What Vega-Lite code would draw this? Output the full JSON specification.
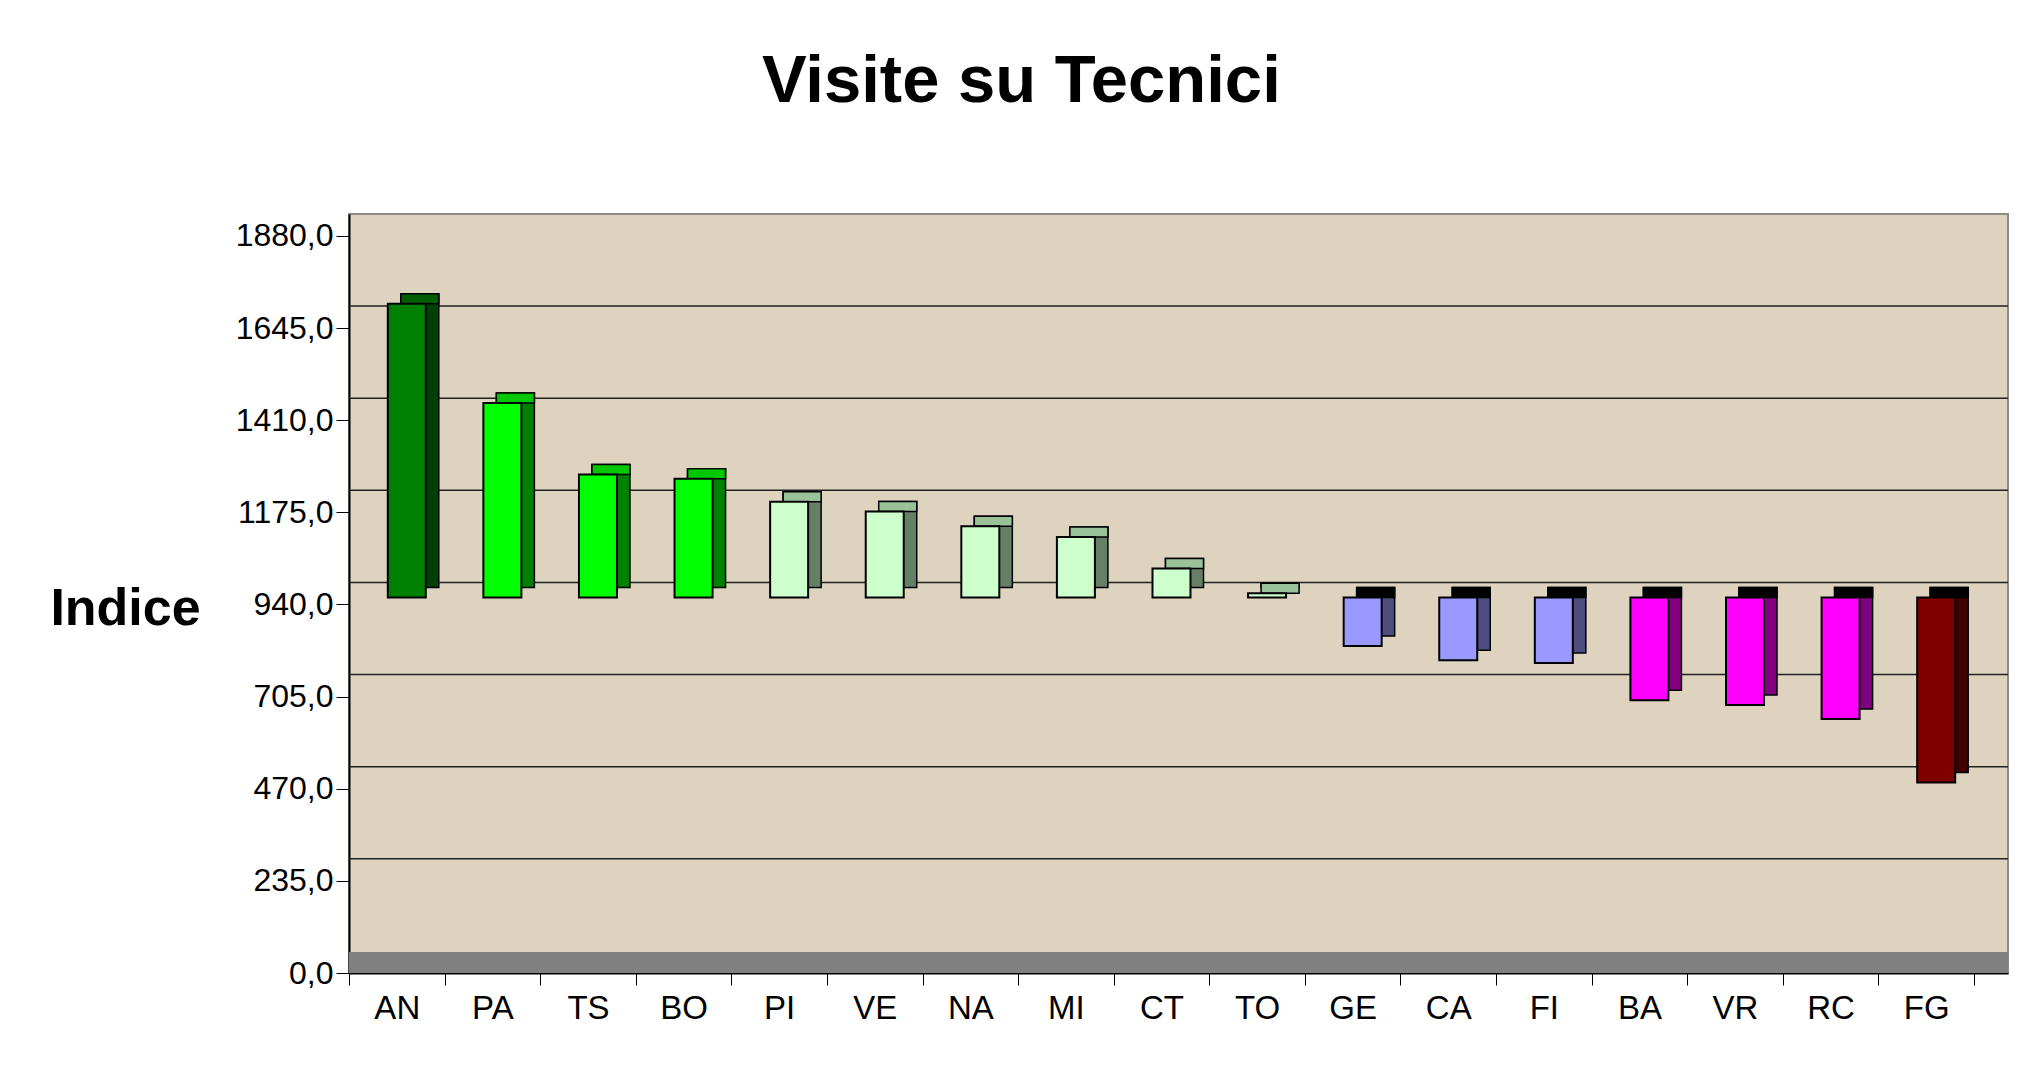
{
  "$schema": "https://vega.github.io/schema/vega-lite/v6.json",
  "width": 1659,
  "height": 759,
  "autosize": {"type": "none"},
  "padding": {"left": 349, "top": 214, "right": 11, "bottom": 115},
  "background": "white",
  "title": {
    "text": "Visite su Tecnici",
    "font": "Liberation Sans",
    "fontSize": 67,
    "fontWeight": "bold",
    "color": "black",
    "frame": "bounds",
    "anchor": "middle",
    "dx": -8,
    "offset": 98
  },
  "datasets": {
    "bars": [
      {"city": "AN", "value": 1689, "group": "g1"},
      {"city": "PA", "value": 1436, "group": "g2"},
      {"city": "TS", "value": 1254, "group": "g2"},
      {"city": "BO", "value": 1243, "group": "g2"},
      {"city": "PI", "value": 1184, "group": "g3"},
      {"city": "VE", "value": 1159, "group": "g3"},
      {"city": "NA", "value": 1122, "group": "g3"},
      {"city": "MI", "value": 1094, "group": "g3"},
      {"city": "CT", "value": 1014, "group": "g3"},
      {"city": "TO", "value": 951, "group": "g3"},
      {"city": "GE", "value": 816, "group": "g4"},
      {"city": "CA", "value": 780, "group": "g4"},
      {"city": "FI", "value": 773, "group": "g4"},
      {"city": "BA", "value": 678, "group": "g5"},
      {"city": "VR", "value": 666, "group": "g5"},
      {"city": "RC", "value": 630, "group": "g5"},
      {"city": "FG", "value": 468, "group": "g6"}
    ],
    "grid": [
      {"level": 235}, {"level": 470}, {"level": 705}, {"level": 940},
      {"level": 1175}, {"level": 1410}, {"level": 1645}
    ]
  },
  "data": {"name": "bars"},
  "layer": [
    {
      "mark": {"type": "rect", "color": "#808080", "yOffset": -21},
      "encoding": {
        "y": {"datum": 0, "type": "quantitative", "title": "Indice"},
        "y2": {"datum": 0}
      }
    },
    {
      "data": {"name": "grid"},
      "mark": {"type": "rule", "color": "#222222", "strokeWidth": 1.5, "yOffset": -22},
      "encoding": {
        "y": {"field": "level", "type": "quantitative", "title": "Indice"}
      }
    },
    {
      "mark": {"type": "bar", "width": 38, "xOffset": 23, "yOffset": -17, "y2Offset": -17, "stroke": "black", "strokeWidth": 1.5},
      "encoding": {
        "x": {"field": "city", "type": "nominal", "sort": null, "title": null},
        "y": {"field": "value", "type": "quantitative", "title": "Indice"},
        "y2": {"datum": 940},
        "color": {
          "field": "group", "type": "nominal", "legend": null,
          "scale": {"domain": ["g1", "g2", "g3", "g4", "g5", "g6"], "range": ["#004000", "#008000", "#668066", "#4d4d80", "#800080", "#400000"]}
        }
      }
    },
    {
      "transform": [{"filter": "datum.value > 940"}],
      "mark": {"type": "bar", "width": 38, "xOffset": 23, "yOffset": -17, "y2Offset": -7, "stroke": "black", "strokeWidth": 1.5},
      "encoding": {
        "x": {"field": "city", "type": "nominal", "sort": null, "title": null},
        "y": {"field": "value", "type": "quantitative", "title": "Indice"},
        "y2": {"field": "value"},
        "color": {
          "field": "group", "type": "nominal", "legend": null,
          "scale": {"domain": ["g1", "g2", "g3", "g4", "g5", "g6"], "range": ["#005c00", "#00c800", "#99c299", "#000000", "#000000", "#000000"]}
        }
      }
    },
    {
      "transform": [{"filter": "datum.value < 940"}],
      "mark": {"type": "bar", "width": 38, "xOffset": 23, "yOffset": -17, "y2Offset": -7, "color": "black", "stroke": "black", "strokeWidth": 1.5},
      "encoding": {
        "x": {"field": "city", "type": "nominal", "sort": null, "title": null},
        "y": {"datum": 940, "type": "quantitative", "title": "Indice"},
        "y2": {"datum": 940}
      }
    },
    {
      "mark": {"type": "bar", "width": 38, "xOffset": 10, "yOffset": -7, "y2Offset": -7, "stroke": "black", "strokeWidth": 2},
      "encoding": {
        "x": {
          "field": "city", "type": "nominal", "sort": null, "title": null,
          "scale": {"paddingInner": 0, "paddingOuter": 0.178, "align": 0},
          "axis": {
            "labelAngle": 0, "labelAlign": "center", "labelBaseline": "top",
            "labelFontSize": 33, "labelPadding": 7, "tickSize": 12,
            "tickBand": "extent", "domainWidth": 2
          }
        },
        "y": {
          "field": "value", "type": "quantitative", "title": "Indice",
          "scale": {"domain": [0, 1936], "nice": false, "zero": true},
          "axis": {
            "values": [0, 235, 470, 705, 940, 1175, 1410, 1645, 1880],
            "labelExpr": "replace(format(datum.value, '.1f'), '.', ',')",
            "labelFontSize": 32, "tickSize": 13, "labelPadding": 3, "domainWidth": 2,
            "titleAngle": 0, "titleFontSize": 52, "titleFontWeight": "bold",
            "titleX": -224, "titleY": 410, "titleAlign": "center", "titleBaseline": "alphabetic"
          }
        },
        "y2": {"datum": 940},
        "color": {
          "field": "group", "type": "nominal", "legend": null,
          "scale": {"domain": ["g1", "g2", "g3", "g4", "g5", "g6"], "range": ["#008000", "#00ff00", "#ccffcc", "#9999ff", "#ff00ff", "#800000"]}
        }
      }
    }
  ],
  "resolve": {"scale": {"color": "independent"}},
  "config": {
    "font": "Liberation Sans",
    "view": {"stroke": "#8c8c8c", "strokeWidth": 2, "fill": "#ddd3bf"},
    "axis": {
      "grid": false, "domainColor": "black", "tickColor": "black", "labelColor": "black",
      "titleColor": "black", "labelFont": "Liberation Sans", "titleFont": "Liberation Sans"
    }
  }
}
